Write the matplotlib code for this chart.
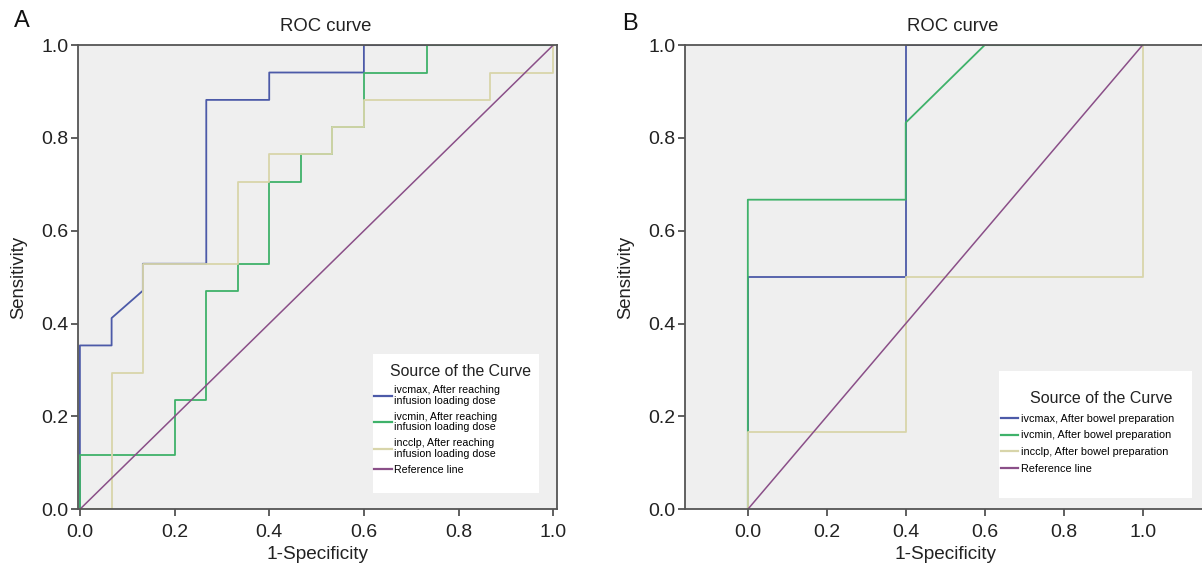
import matplotlib.pyplot as plt
from matplotlib.lines import Line2D
from matplotlib.patches import Rectangle

plt.rcParams['font.family'] = ['Liberation Sans', 'DejaVu Sans']

# panel A: after reaching infusion loading dose (ROC points)
a_ivcmax_x = [0, 0, 0.067, 0.067, 0.133, 0.133, 0.267, 0.267, 0.4, 0.4, 0.6, 0.6, 1.0]
a_ivcmax_y = [0, 0.353, 0.353, 0.412, 0.471, 0.529, 0.529, 0.882, 0.882, 0.941, 0.941, 1.0, 1.0]
a_ivcmin_x = [0, 0, 0.2, 0.2, 0.267, 0.267, 0.333, 0.333, 0.4, 0.4, 0.467, 0.467,
              0.533, 0.533, 0.6, 0.6, 0.733, 0.733, 1.0]
a_ivcmin_y = [0, 0.118, 0.118, 0.235, 0.235, 0.471, 0.471, 0.529, 0.529, 0.706, 0.706, 0.765,
              0.765, 0.824, 0.824, 0.941, 0.941, 1.0, 1.0]
a_incclp_x = [0, 0.067, 0.067, 0.133, 0.133, 0.333, 0.333, 0.4, 0.4, 0.533, 0.533, 0.6, 0.6,
              0.867, 0.867, 1.0, 1.0]
a_incclp_y = [0, 0, 0.294, 0.294, 0.529, 0.529, 0.706, 0.706, 0.765, 0.765, 0.824, 0.824, 0.882,
              0.882, 0.941, 0.941, 1.0]

# panel B: after bowel preparation
b_ivcmax_x = [0, 0, 0.4, 0.4, 1.0]
b_ivcmax_y = [0, 0.5, 0.5, 1.0, 1.0]
b_ivcmin_x = [0, 0, 0.4, 0.4, 0.6, 1.0]
b_ivcmin_y = [0, 0.667, 0.667, 0.833, 1.0, 1.0]
b_incclp_x = [0, 0, 0.4, 0.4, 1.0, 1.0]
b_incclp_y = [0, 0.167, 0.167, 0.5, 0.5, 1.0]

ref_x = [0, 1]
ref_y = [0, 1]

ticks = [0.0, 0.2, 0.4, 0.6, 0.8, 1.0]
tick_labels = ['0.0', '0.2', '0.4', '0.6', '0.8', '1.0']

labels_a = ['ivcmax, After reaching\ninfusion loading dose',
            'ivcmin, After reaching\ninfusion loading dose',
            'incclp, After reaching\ninfusion loading dose',
            'Reference line']
labels_b = ['ivcmax, After bowel preparation',
            'ivcmin, After bowel preparation',
            'incclp, After bowel preparation',
            'Reference line']

c_blue = '#4c5aa8'
c_green = '#3fb26a'
c_beige = '#d8d5aa'
c_purple = '#8a4f88'
colors = [c_blue, c_green, c_beige, c_purple]

fig = plt.figure(figsize=(12.02, 5.64), dpi=100)
axA = fig.add_axes([0.0645, 0.097, 0.3985, 0.823])
axB = fig.add_axes([0.5696, 0.097, 0.4335, 0.823])


def style(ax, xlim):
    ax.set_facecolor('#efefef')
    ax.set_xlim(xlim)
    ax.set_ylim(0, 1)
    ax.set_xticks(ticks)
    ax.set_xticklabels(tick_labels)
    ax.set_yticks(ticks)
    ax.set_yticklabels(tick_labels)
    ax.tick_params(direction='out', length=5, width=1.2, color='#444444',
                   labelsize=14, labelcolor='#222222')
    ax.tick_params(axis='x', pad=5.5)
    ax.tick_params(axis='y', pad=1.5)
    for s in ax.spines.values():
        s.set_color('#555555')
        s.set_linewidth(1.3)
    ax.set_xlabel('1-Specificity', fontsize=13.7, color='#222222', labelpad=4)
    ax.set_ylabel('Sensitivity', fontsize=13.3, color='#222222', labelpad=10)
    ax.text(0.52, 1.022, 'ROC curve', fontsize=13.3, color='#222222',
            ha='center', va='bottom', transform=ax.get_xaxis_transform())


style(axA, (-0.005, 1.007))
style(axB, (-0.16, 1.16))

lw = 1.3
axA.plot(a_ivcmax_x, a_ivcmax_y, color=c_blue, lw=lw)
axA.plot(a_ivcmin_x, a_ivcmin_y, color=c_green, lw=lw)
axA.plot(a_incclp_x, a_incclp_y, color=c_beige, lw=lw)
axA.plot(ref_x, ref_y, color=c_purple, lw=1.1)

axB.plot(b_ivcmax_x, b_ivcmax_y, color=c_blue, lw=lw)
axB.plot(b_ivcmin_x, b_ivcmin_y, color=c_green, lw=lw)
axB.plot(b_incclp_x, b_incclp_y, color=c_beige, lw=lw)
axB.plot(ref_x, ref_y, color=c_purple, lw=1.1)

handles = [Line2D([], [], color=c, lw=1.6) for c in colors]

# legend A
axA.add_patch(Rectangle((0.62, 0.035), 0.35, 0.30, facecolor='white', edgecolor='none', zorder=3))
axA.text(0.804, 0.296, 'Source of the Curve', fontsize=11.4, color='#222222',
         ha='center', va='center', zorder=4)
legA = axA.legend(handles, labels_a, loc='upper left', bbox_to_anchor=(0.621, 0.268),
                  bbox_transform=axA.transData, frameon=False, fontsize=7.7,
                  handlelength=1.7, handletextpad=0.2, borderpad=0, borderaxespad=0,
                  labelspacing=0.55)
for t in legA.get_texts():
    t.set_linespacing(1.1)
legA.set_zorder(5)

# legend B
axB.add_patch(Rectangle((0.636, 0.025), 0.49, 0.273, facecolor='white', edgecolor='none', zorder=3))
axB.text(0.8955, 0.238, 'Source of the Curve', fontsize=11.5, color='#222222',
         ha='center', va='center', zorder=4)
legB = axB.legend(handles, labels_b, loc='upper left', bbox_to_anchor=(0.641, 0.206),
                  bbox_transform=axB.transData, frameon=False, fontsize=7.8,
                  handlelength=1.55, handletextpad=0.33, borderpad=0, borderaxespad=0,
                  labelspacing=0.62)
legB.set_zorder(5)

fig.text(0.018, 0.962, 'A', fontsize=17, color='#111111', ha='center', va='center')
fig.text(0.524, 0.958, 'B', fontsize=17, color='#111111', ha='center', va='center')

fig.savefig('out.png', dpi=100)
